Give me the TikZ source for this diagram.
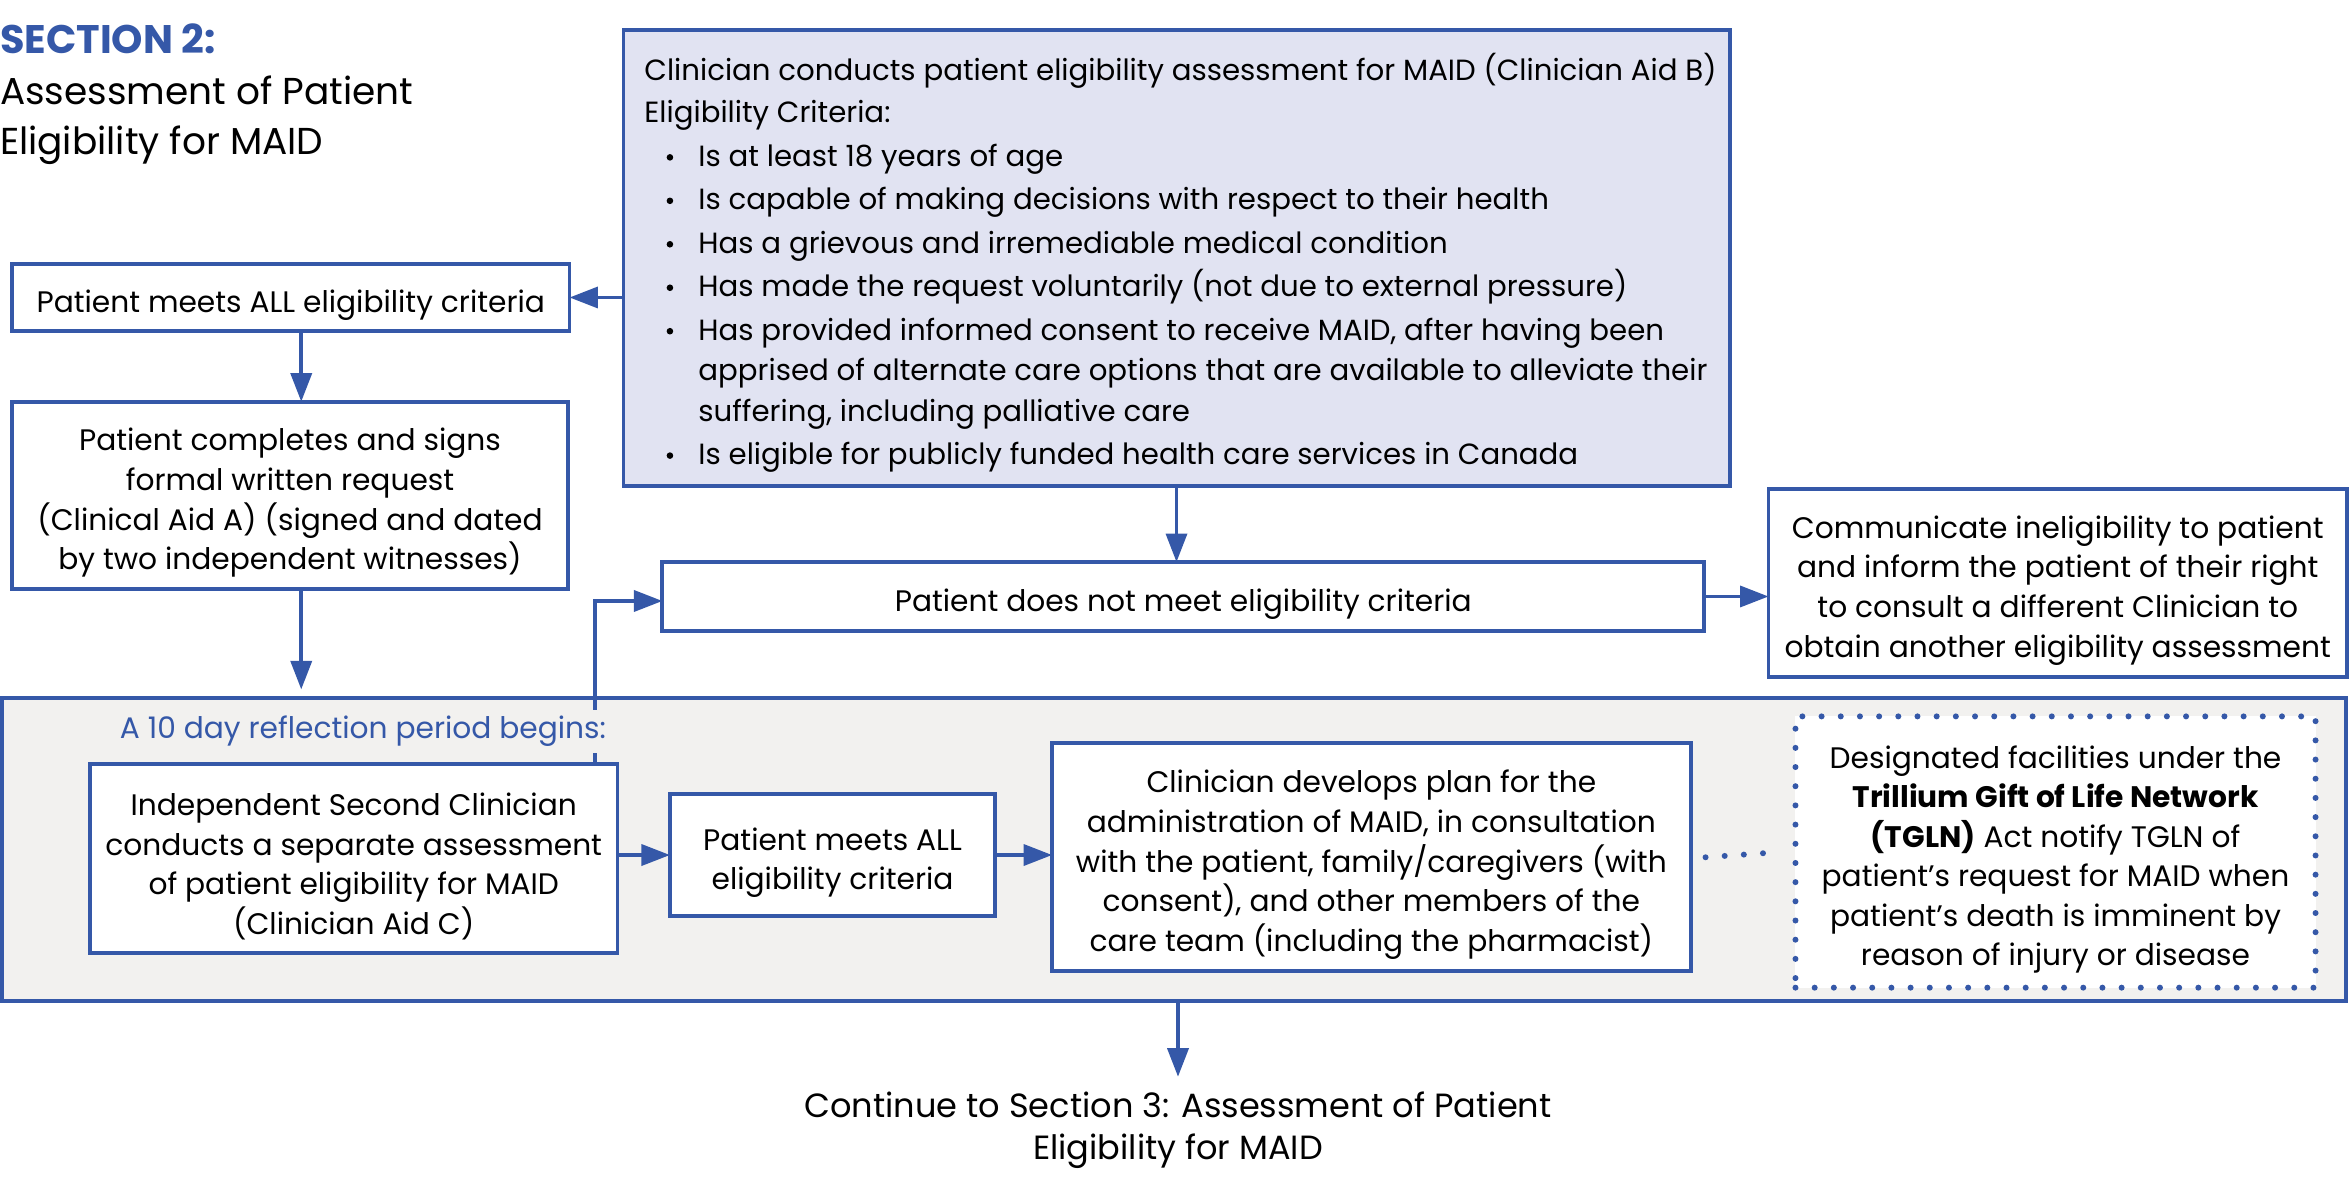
\documentclass[tikz,border=0pt]{standalone}
\usepackage{fontspec}
\setmainfont{Poppins}
\usetikzlibrary{arrows.meta,calc}
\definecolor{mblue}{RGB}{53,88,168}
\definecolor{lav}{RGB}{225,227,242}
\definecolor{rgray}{RGB}{242,241,239}
\begin{document}
\begin{tikzpicture}[x=0.5pt,y=-0.5pt,
  every node/.style={inner sep=0pt, outer sep=0pt, font=\fontsize{9.9pt}{13.2pt}\selectfont},
  fbox/.style={draw=mblue, line width=1.3pt, fill=white},
  btext/.style={align=center},
  arr/.style={draw=mblue, line width=1.2pt, -{Triangle[length=9.5pt,width=7pt]}},
  dotline/.style={draw=mblue, line width=2pt, line cap=round, dash pattern=on 0pt off 6.4pt},
  crittext/.style={anchor=base west, font=\fontsize{9.75pt}{12pt}\selectfont},
  bul/.style={circle, fill=black, minimum size=2.2pt},
  titlefont/.style={font=\fontsize{12.5pt}{16.5pt}\selectfont}]
\useasboundingbox (0,0) rectangle (1568,785);

% title
\node[anchor=base west, font=\fontsize{13.3pt}{16.5pt}\selectfont\bfseries, text=mblue] (sec) at (0,36) {SECTION 2:};
\node[anchor=base west, titlefont] (sec1) at (0,70) {Assessment of Patient};
\node[anchor=base west, titlefont] (sec2) at (0,103) {Eligibility for MAID};

% reflection background
\node[draw=mblue, line width=1.3pt, fill=rgray, minimum width=782pt, minimum height=101pt] (refl) at (783.5,567) {};

% criteria box
\node[draw=mblue, line width=1.3pt, fill=lav, minimum width=369pt, minimum height=152pt] (crit) at (785,172) {};
\node[crittext] (c1) at (430,54) {Clinician conducts patient eligibility assessment for MAID (Clinician Aid B)};
\node[crittext] (c2) at (430,82) {Eligibility Criteria:};
\node[crittext] (c3) at (466,111) {Is at least 18 years of age};
\node[crittext] (c4) at (466,140) {Is capable of making decisions with respect to their health};
\node[crittext] (c5) at (466,169) {Has a grievous and irremediable medical condition};
\node[crittext] (c6) at (466,198) {Has made the request voluntarily (not due to external pressure)};
\node[crittext] (c7) at (466,227) {Has provided informed consent to receive MAID, after having been};
\node[crittext] (c8) at (466,254) {apprised of alternate care options that are available to alleviate their};
\node[crittext] (c9) at (466,281) {suffering, including palliative care};
\node[crittext] (c10) at (466,310) {Is eligible for publicly funded health care services in Canada};
\node[bul] (b1) at (447,105) {};
\node[bul] (b2) at (447,134) {};
\node[bul] (b3) at (447,163) {};
\node[bul] (b4) at (447,192) {};
\node[bul] (b5) at (447,221) {};
\node[bul] (b6) at (447,304) {};

% left column
\node[fbox, minimum width=186pt, minimum height=22.5pt] (pm1) at (194,198.5) {};
\node[btext] (pm1t) at ($(pm1)+(0,5)$) {Patient meets ALL eligibility criteria};
\node[fbox, minimum width=185.5pt, minimum height=62.5pt] (pc) at (193.5,330.5) {};
\node[btext] (pct) at ($(pc)+(0,5)$) {Patient completes and signs\\formal written request\\(Clinical Aid A) (signed and dated\\by two independent witnesses)};

% not eligible
\node[fbox, minimum width=347.5pt, minimum height=23pt] (pdn) at (789.5,398) {};
\node[btext] (pdnt) at ($(pdn)+(0,5)$) {Patient does not meet eligibility criteria};
\node[fbox, minimum width=193pt, minimum height=63pt] (comm) at (1373,389) {};
\node[btext] (commt) at ($(comm)+(0,5)$) {Communicate ineligibility to patient\\and inform the patient of their right\\to consult a different Clinician to\\obtain another eligibility assessment};

% reflection row
\node[fbox, minimum width=176pt, minimum height=63pt] (isc) at (236,573) {};
\node[btext] (isct) at ($(isc)+(0,5)$) {Independent Second Clinician\\conducts a separate assessment\\of patient eligibility for MAID\\(Clinician Aid C)};
\node[fbox, minimum width=108.5pt, minimum height=40.5pt] (pm2) at (555.5,570.5) {};
\node[btext] (pm2t) at ($(pm2)+(0,5)$) {Patient meets ALL\\eligibility criteria};
\node[fbox, minimum width=213pt, minimum height=76pt] (plan) at (915,572) {};
\node[btext] (plant) at ($(plan)+(0,5)$) {Clinician develops plan for the\\administration of MAID, in consultation\\with the patient, family/caregivers (with\\consent), and other members of the\\care team (including the pharmacist)};
\node[draw=mblue, line width=2pt, line cap=round, dash pattern=on 0pt off 6.4pt, fill=white, minimum width=173.5pt, minimum height=90.5pt] (tgln) at (1371.5,568.5) {};
\node[btext] (tglnt) at ($(tgln)+(0,5)$) {Designated facilities under the\\\textbf{Trillium Gift of Life Network}\\\textbf{(TGLN)} Act notify TGLN of\\patient’s request for MAID when\\patient’s death is imminent by\\reason of injury or disease};

% continue
\node[align=center, font=\fontsize{11.2pt}{14pt}\selectfont] (cont) at (786,754) {Continue to Section 3: Assessment of Patient\\Eligibility for MAID};

% connectors
\coordinate (ax) at (201,0);
\coordinate (lx) at (397,0);
\draw[arr] (crit.west |- pm1.east) -- (pm1.east);
\draw[arr] (pm1.south -| ax) -- (pc.north -| ax);
\draw[arr] (pc.south -| ax) -- ($(refl.north -| ax)+(0,-6)$);
\draw[arr] (crit.south) -- (crit.south |- pdn.north);
\draw[arr] (pdn.east) -- (pdn.east -| comm.west);
\draw[arr] (isc.north -| lx) |- ($(pdn.west)+(0,3)$);
\draw[arr] (isc.east |- pm2.west) -- (pm2.west);
\draw[arr] (pm2.east) -- (pm2.east -| plan.west);
\draw[dotline] ($(plan.east)+(10,0)$) -- ($(tgln.west)+(-10,0)$);
\draw[arr, shorten >=5pt] (refl.south -| cont.north) -- (cont.north);

% label
\node[anchor=west, fill=rgray, text=mblue, inner ysep=2pt] (lab) at (80,488) {A 10 day reflection period begins:};
\end{tikzpicture}
\end{document}
